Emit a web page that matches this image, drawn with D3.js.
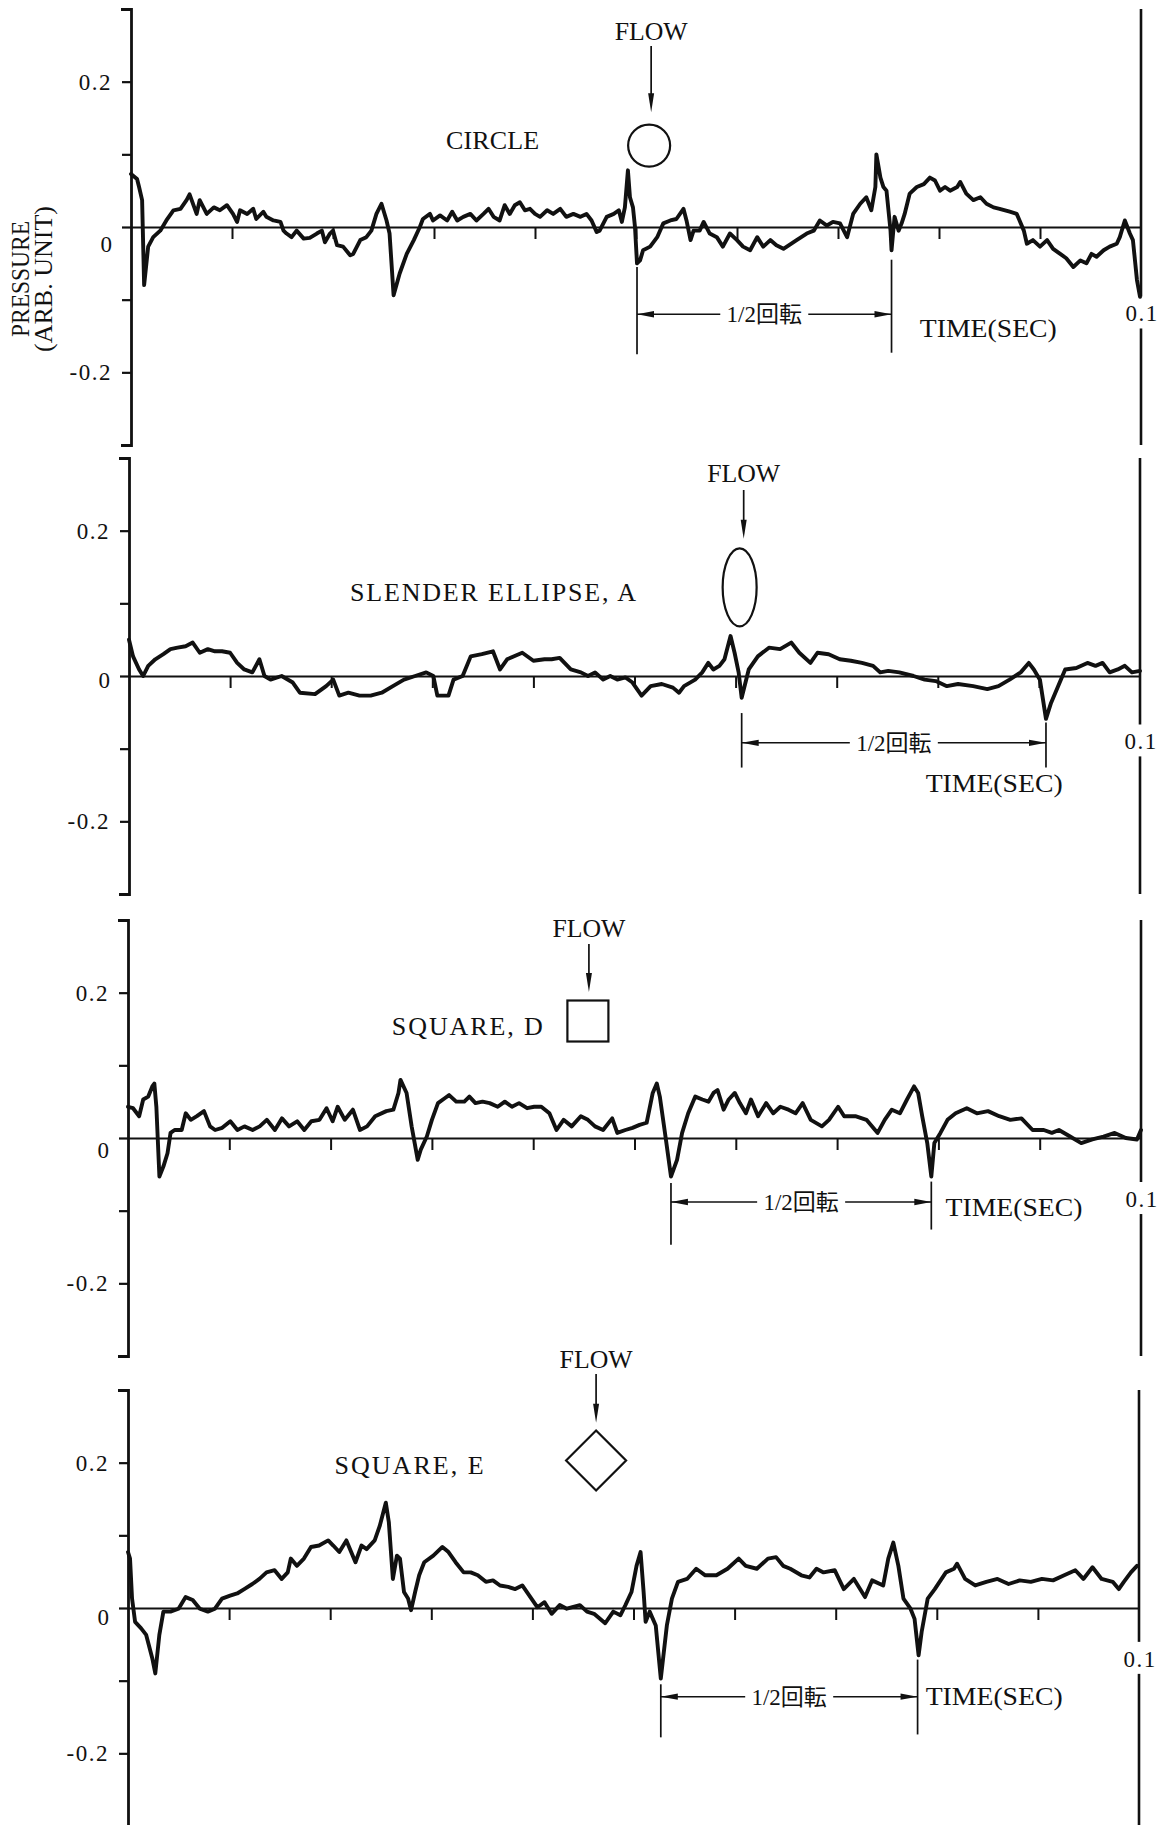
<!DOCTYPE html>
<html lang="ja">
<head>
<meta charset="utf-8">
<title>Pressure traces</title>
<style>
  html, body { margin: 0; padding: 0; background: #fff; }
  svg { display: block; }
  text { font-family: "Liberation Serif", "DejaVu Serif", "Noto Sans CJK JP", serif; fill: #111; }
</style>
<script src="https://cdn.jsdelivr.net/npm/d3@7"></script>
</head>
<body>
<svg id="chart" width="1159" height="1825"></svg>
<script>
// [time (ms), pressure (arb. unit)]
const circleData = [[0,.073],[0.6,.066],[0.8,.055],[1.1,.037],[1.3,-.08],[1.7,-.027],[2.2,-.014],[2.9,-.005],[3.5,.009],[4.2,.023],[4.9,.025],[5.5,.037],[5.8,.045],[6.5,.018],[6.8,.037],[7.5,.018],[8.2,.027],[8.8,.023],[9.5,.03],[10.1,.018],[10.5,.007],[10.8,.023],[11.5,.018],[12.1,.025],[12.4,.011],[13.1,.021],[13.4,.014],[14.1,.009],[14.8,.007],[15.1,-.005],[15.4,-.009],[15.9,-.014],[16.4,-.005],[17.1,-.016],[17.7,-.015],[18.4,-.009],[18.9,-.005],[19.2,-.021],[19.7,-.009],[20.0,-.005],[20.4,-.025],[21.0,-.027],[21.7,-.039],[22.0,-.037],[22.7,-.018],[23.3,-.014],[23.8,-.005],[24.3,.018],[24.8,.032],[25.3,.009],[25.6,-.009],[26.0,-.094],[26.6,-.064],[27.3,-.037],[28.0,-.018],[28.6,0],[28.9,.011],[29.6,.018],[29.9,.009],[30.6,.016],[31.3,.009],[31.8,.021],[32.3,.009],[32.9,.014],[33.6,.018],[34.2,.009],[34.9,.018],[35.4,.025],[35.9,.014],[36.5,.009],[37.0,.03],[37.5,.018],[38.0,.03],[38.5,.034],[39.0,.023],[39.5,.025],[40.0,.018],[40.5,.014],[41.2,.023],[41.8,.018],[42.5,.025],[43.1,.014],[43.8,.018],[44.5,.014],[45.1,.018],[45.6,.009],[46.1,-.007],[46.4,-.005],[47.1,.014],[47.8,.018],[48.3,.023],[48.6,.007],[48.9,.027],[49.2,.078],[49.4,.041],[49.7,.027],[49.9,0],[50.1,-.05],[50.4,-.046],[50.7,-.032],[51.4,-.027],[52.1,-.014],[52.7,.005],[53.4,.009],[54.0,.011],[54.7,.025],[55.0,.009],[55.4,-.018],[55.7,-.005],[56.3,-.005],[56.7,.007],[57.3,-.009],[58.0,-.014],[58.6,-.027],[59.3,-.009],[60.0,-.018],[60.6,-.027],[61.3,-.032],[62.0,-.014],[62.6,-.027],[63.3,-.018],[63.9,-.025],[64.6,-.03],[65.9,-.018],[66.9,-.009],[67.6,-.005],[68.2,.009],[68.9,.002],[69.5,.007],[70.2,.005],[70.9,-.014],[71.5,.018],[72.2,.032],[72.8,.041],[73.3,.023],[73.7,.055],[73.8,.1],[74.2,.068],[74.5,.055],[74.8,.05],[75.2,-.005],[75.3,-.032],[75.6,.014],[76.0,-.005],[76.3,.005],[76.6,.018],[77.1,.046],[77.8,.055],[78.5,.059],[79.1,.068],[79.6,.064],[80.1,.05],[80.6,.055],[81.1,.05],[81.8,.055],[82.1,.062],[82.7,.046],[83.4,.037],[84.1,.041],[84.7,.032],[85.4,.027],[86.0,.025],[87.0,.021],[87.7,.018],[88.4,-.005],[88.7,-.023],[89.3,-.018],[90.0,-.027],[90.7,-.018],[91.3,-.03],[92.0,-.037],[92.6,-.043],[93.3,-.055],[94.0,-.046],[94.6,-.05],[95.1,-.037],[95.6,-.041],[96.3,-.032],[96.9,-.027],[97.6,-.023],[97.9,-.014],[98.4,.009],[98.9,-.009],[99.2,-.018],[99.6,-.073],[99.9,-.096]];

const ellipseData = [[0,.05],[0.4,.027],[1.0,.009],[1.4,0],[1.9,.014],[2.6,.023],[3.4,.03],[4.1,.037],[4.8,.039],[5.6,.041],[6.3,.046],[7.0,.032],[7.8,.037],[8.5,.034],[9.2,.034],[10.0,.032],[10.7,.018],[11.4,.009],[12.2,.005],[12.9,.023],[13.4,0],[14.0,-.005],[15.1,0],[16.2,-.009],[16.9,-.023],[18.4,-.025],[19.5,-.014],[20.2,-.005],[20.8,-.027],[21.7,-.023],[22.8,-.027],[23.9,-.027],[25.0,-.023],[26.1,-.014],[27.2,-.005],[28.3,0],[29.4,.005],[30.1,0],[30.5,-.027],[31.6,-.027],[32.1,-.005],[33.0,0],[33.8,.027],[34.9,.03],[36.0,.034],[36.7,.009],[37.4,.023],[38.9,.032],[40.0,.021],[41.1,.023],[41.8,.023],[42.6,.025],[43.7,.009],[44.7,.005],[45.4,0],[46.1,.005],[46.9,-.005],[47.6,0],[48.3,-.005],[49.1,-.002],[49.8,-.009],[50.7,-.027],[51.6,-.014],[52.7,-.011],[53.8,-.016],[54.4,-.023],[54.9,-.014],[56.0,-.005],[56.7,.005],[57.3,.018],[57.8,.009],[58.4,.014],[58.9,.023],[59.5,.055],[59.9,.032],[60.3,.005],[60.6,-.03],[61.3,.009],[62.2,.027],[63.3,.039],[64.4,.037],[65.5,.046],[66.3,.032],[67.4,.018],[68.1,.032],[69.2,.03],[70.3,.023],[71.4,.021],[72.5,.018],[73.6,.014],[74.3,.005],[75.1,.007],[76.2,.005],[77.6,0],[78.7,-.005],[79.8,-.007],[80.9,-.014],[82.0,-.011],[83.5,-.014],[84.9,-.018],[86.0,-.014],[87.1,-.005],[88.2,.005],[89.0,.018],[89.5,.009],[90.1,-.005],[90.7,-.059],[91.2,-.037],[91.9,-.014],[92.6,.009],[93.7,.011],[94.8,.018],[95.6,.014],[96.3,.018],[97.0,.005],[97.8,.009],[98.5,.014],[99.2,.005],[100,.007]];

const squareDData = [[0,.043],[0.5,.041],[1.1,.03],[1.5,.053],[2.0,.057],[2.4,.071],[2.6,.075],[2.8,.043],[3.1,-.053],[3.5,-.039],[3.9,-.021],[4.2,.007],[4.6,.011],[5.3,.011],[5.7,.034],[6.2,.025],[6.8,.03],[7.5,.037],[8.1,.016],[8.6,.011],[9.3,.014],[10.1,.023],[10.8,.011],[11.5,.016],[12.3,.011],[13.0,.016],[13.7,.025],[14.5,.011],[15.2,.027],[15.9,.016],[16.7,.023],[17.4,.011],[18.1,.023],[18.9,.025],[19.6,.041],[20.2,.023],[20.7,.043],[21.4,.025],[22.2,.039],[22.9,.011],[23.6,.016],[24.4,.03],[25.5,.037],[26.2,.039],[26.7,.062],[26.9,.08],[27.5,.062],[28.0,.016],[28.6,-.03],[28.9,-.016],[29.5,.002],[30.0,.025],[30.6,.048],[31.3,.055],[31.7,.059],[32.4,.05],[33.2,.05],[33.7,.057],[34.3,.048],[35.0,.05],[35.7,.048],[36.5,.043],[37.2,.05],[37.9,.043],[38.6,.048],[39.4,.041],[40.1,.043],[40.8,.043],[41.6,.034],[42.3,.011],[43.0,.025],[43.8,.016],[44.7,.03],[45.4,.025],[46.1,.016],[46.9,.011],[47.8,.027],[48.3,.007],[49.1,.011],[49.8,.014],[50.5,.018],[51.2,.021],[51.8,.062],[52.2,.075],[52.5,.057],[53.1,-.002],[53.6,-.053],[54.2,-.03],[54.7,.007],[55.3,.034],[56.0,.057],[56.7,.053],[57.3,.05],[57.8,.062],[58.2,.066],[58.8,.039],[59.3,.053],[59.9,.062],[60.4,.048],[61.0,.034],[61.5,.053],[62.2,.03],[63.0,.048],[63.7,.034],[64.4,.043],[65.2,.039],[65.9,.034],[66.6,.048],[67.4,.025],[68.5,.016],[69.2,.025],[70.1,.043],[70.7,.03],[71.8,.03],[72.9,.025],[74.0,.007],[74.7,.025],[75.4,.039],[76.2,.034],[76.9,.053],[77.6,.071],[78.0,.062],[78.4,.03],[78.9,-.007],[79.3,-.053],[79.6,-.007],[80.2,.007],[80.9,.025],[81.7,.034],[82.8,.041],[83.8,.034],[84.9,.037],[86.0,.03],[87.1,.025],[88.2,.027],[89.3,.011],[90.4,.011],[91.2,.007],[91.9,.011],[93.0,.002],[94.1,-.007],[95.2,-.002],[96.3,.002],[97.4,.007],[98.5,0],[99.6,-.002],[100,.011]];

const squareEData = [[0,.077],[0.2,.068],[0.4,.013],[0.7,-.019],[1.3,-.028],[1.8,-.037],[2.4,-.069],[2.7,-.09],[3.1,-.037],[3.5,-.005],[4.2,-.005],[5.0,-.001],[5.7,.015],[6.4,.011],[7.1,-.001],[7.9,-.005],[8.6,-.001],[9.3,.013],[10.1,.017],[10.8,.02],[11.5,.026],[12.3,.033],[13.0,.04],[13.7,.049],[14.5,.052],[15.2,.04],[15.8,.049],[16.1,.068],[16.7,.058],[17.4,.068],[18.1,.084],[18.9,.086],[19.8,.093],[20.3,.086],[20.9,.077],[21.6,.093],[22.5,.063],[23.1,.086],[23.6,.081],[24.4,.093],[24.9,.113],[25.5,.145],[25.8,.118],[26.2,.04],[26.6,.072],[26.9,.068],[27.3,.022],[27.7,.013],[28.0,-.003],[28.4,.022],[28.8,.045],[29.3,.063],[30.2,.072],[31.1,.084],[31.7,.077],[32.4,.063],[33.2,.049],[33.9,.049],[34.6,.045],[35.4,.036],[36.1,.038],[36.8,.031],[37.6,.029],[38.3,.026],[39.0,.031],[39.7,.017],[40.5,.001],[41.2,.008],[41.9,-.008],[42.7,.004],[43.4,-.001],[44.7,.004],[45.4,-.005],[46.1,-.008],[47.2,-.021],[48.0,-.005],[48.7,-.01],[49.2,.004],[49.8,.022],[50.3,.058],[50.7,.077],[51.0,.022],[51.2,-.019],[51.6,-.005],[52.2,-.024],[52.7,-.097],[53.3,-.024],[53.8,.013],[54.4,.036],[55.3,.04],[56.2,.054],[57.1,.045],[58.2,.045],[59.3,.054],[60.4,.068],[61.1,.058],[62.2,.054],[63.3,.068],[64.1,.07],[64.8,.058],[65.5,.054],[66.6,.045],[67.4,.042],[68.1,.054],[68.8,.049],[69.9,.052],[70.8,.026],[71.8,.04],[72.9,.015],[73.6,.038],[74.7,.031],[75.2,.068],[75.7,.09],[76.2,.058],[76.7,.013],[77.4,-.001],[77.8,-.015],[78.2,-.065],[78.5,-.033],[79.1,.013],[79.8,.026],[80.9,.049],[81.7,.054],[82.0,.061],[82.8,.04],[83.8,.031],[84.9,.036],[86.0,.04],[87.1,.033],[88.2,.038],[89.3,.036],[90.4,.04],[91.5,.038],[92.6,.045],[93.7,.052],[94.5,.04],[95.4,.056],[96.3,.04],[97.4,.036],[98.0,.026],[98.5,.036],[99.2,.049],[99.8,.058]];

const yTickValues = [-0.2, -0.1, 0, 0.1, 0.2];
const yTickLabels = {"0.2": "0.2", "0": "0", "-0.2": "-0.2"};
const xTickValues = [0.01, 0.02, 0.03, 0.04, 0.05, 0.06, 0.07, 0.08, 0.09];

// layout of the four strips, annotations in data units (ms, pressure)
const panels = [
  { data: circleData, x0: 131, x1: 1141, zero: 227, zeroDy: 17,
    name: { text: "CIRCLE", t: 35.8, p: 0.108, len: 93 },
    flow: { t: 51.5, label: 0.258, p1: 0.249, p2: 0.158 },
    shape: { type: "circle", t: 51.3, p: 0.112, r: 21 },
    dim: { t1: 50.1, t2: 75.3, top1: -0.055, top2: -0.045, bot1: -0.175, bot2: -0.173, mid: -0.12 },
    time: { t: 78.1, p: -0.151 }, tenth: -0.130 },
  { data: ellipseData, x0: 129, x1: 1140, zero: 676, zeroDy: 4,
    name: { text: "SLENDER ELLIPSE, A", t: 36.0, p: 0.103, len: 286 },
    flow: { t: 60.8, label: 0.267, p1: 0.256, p2: 0.189 },
    shape: { type: "ellipse", t: 60.4, p: 0.122, rx: 17, ry: 39 },
    dim: { t1: 60.6, t2: 90.7, top1: -0.051, top2: -0.064, bot1: -0.126, bot2: -0.126, mid: -0.092 },
    time: { t: 78.8, p: -0.160 }, tenth: -0.101 },
  { data: squareDData, x0: 128, x1: 1141, zero: 1138, zeroDy: 12,
    name: { text: "SQUARE, D", t: 33.5, p: 0.142, len: 151 },
    flow: { t: 45.5, label: 0.277, p1: 0.267, p2: 0.201 },
    shape: { type: "square", t: 45.4, p: 0.161, size: 41 },
    dim: { t1: 53.6, t2: 79.3, top1: -0.062, top2: -0.06, bot1: -0.147, bot2: -0.126, mid: -0.088 },
    time: { t: 80.7, p: -0.108 }, tenth: -0.095 },
  { data: squareEData, x0: 128, x1: 1139, zero: 1608, zeroDy: 9,
    name: { text: "SQUARE, E", t: 27.8, p: 0.184, len: 149 },
    flow: { t: 46.3, label: 0.330, p1: 0.322, p2: 0.255 },
    shape: { type: "diamond", t: 46.3, p: 0.203, half: 30 },
    dim: { t1: 52.7, t2: 78.1, top1: -0.105, top2: -0.071, bot1: -0.178, bot2: -0.174, mid: -0.122 },
    time: { t: 78.9, p: -0.133 }, tenth: -0.081 }
];

const svg = d3.select("#chart");
const ink = "#111";

// y axis title, two rotated lines
const title = svg.append("g").attr("transform", "translate(0,279)");
title.append("text").attr("transform", "translate(29,0) rotate(-90)")
  .attr("text-anchor", "middle").attr("font-size", 26)
  .attr("textLength", 116).attr("lengthAdjust", "spacingAndGlyphs").text("PRESSURE");
title.append("text").attr("transform", "translate(52,0) rotate(-90)")
  .attr("text-anchor", "middle").attr("font-size", 26)
  .attr("textLength", 146).attr("lengthAdjust", "spacingAndGlyphs").text("(ARB. UNIT)");

panels.forEach(pn => {
  const x = d3.scaleLinear().domain([0, 0.1]).range([pn.x0, pn.x1]);
  const y = d3.scaleLinear().domain([-0.3, 0.3]).range([pn.zero + 218, pn.zero - 218]);
  const xt = t => x(t / 1000);
  const g = svg.append("g");

  // bracket axis on the left
  g.append("g").attr("transform", `translate(${pn.x0},0)`)
    .call(d3.axisLeft(y).tickValues(yTickValues).tickSize(9).tickSizeOuter(10).tickFormat(""))
    .call(a => a.select(".domain").attr("stroke", ink).attr("stroke-width", 2.8))
    .call(a => a.selectAll(".tick line").attr("stroke", ink).attr("stroke-width", 2.2));

  yTickValues.forEach(v => {
    const lab = yTickLabels[String(v)];
    if (!lab) return;
    g.append("text")
      .attr("x", pn.x0 - 19)
      .attr("y", y(v) + (v === 0 ? pn.zeroDy : 0))
      .attr("dy", "0.35em")
      .attr("text-anchor", "end")
      .attr("font-size", 23)
      .attr("letter-spacing", v === 0 ? 0 : 1.5)
      .text(lab);
  });

  // time axis drawn on the zero line
  g.append("g").attr("transform", `translate(0,${y(0)})`)
    .call(d3.axisBottom(x).tickValues(xTickValues).tickSize(12).tickSizeOuter(0).tickFormat(""))
    .call(a => a.select(".domain").attr("stroke", ink).attr("stroke-width", 2.2))
    .call(a => a.selectAll(".tick line").attr("stroke", ink).attr("stroke-width", 2));

  // right end line, broken by the 0.1 label
  const yl = y(pn.tenth);
  g.append("line").attr("x1", pn.x1).attr("x2", pn.x1)
    .attr("y1", y(0.3)).attr("y2", yl - 25).attr("stroke", ink).attr("stroke-width", 2.6);
  g.append("line").attr("x1", pn.x1).attr("x2", pn.x1)
    .attr("y1", yl + 7).attr("y2", y(-0.3)).attr("stroke", ink).attr("stroke-width", 2.6);
  g.append("text").attr("x", pn.x1 + 1).attr("y", yl)
    .attr("text-anchor", "middle").attr("font-size", 23).attr("letter-spacing", 1.5)
    .text("0.1");

  // pressure trace
  const line = d3.line().x(d => xt(d[0])).y(d => y(d[1]));
  g.append("path").datum(pn.data)
    .attr("d", line)
    .attr("fill", "none").attr("stroke", ink)
    .attr("stroke-width", 3.9).attr("stroke-linejoin", "round").attr("stroke-linecap", "round");

  // model name
  g.append("text").attr("x", xt(pn.name.t)).attr("y", y(pn.name.p))
    .attr("text-anchor", "middle").attr("font-size", 26)
    .attr("textLength", pn.name.len).attr("lengthAdjust", "spacing")
    .text(pn.name.text);

  // FLOW arrow
  const fx = xt(pn.flow.t);
  g.append("text").attr("x", fx).attr("y", y(pn.flow.label))
    .attr("text-anchor", "middle").attr("font-size", 26)
    .attr("textLength", 73).attr("lengthAdjust", "spacingAndGlyphs").text("FLOW");
  const ay1 = y(pn.flow.p1), ay2 = y(pn.flow.p2);
  g.append("line").attr("x1", fx).attr("x2", fx).attr("y1", ay1).attr("y2", ay2 - 10)
    .attr("stroke", ink).attr("stroke-width", 1.7);
  g.append("path")
    .attr("d", `M${fx - 3},${ay2 - 19}L${fx + 3},${ay2 - 19}L${fx},${ay2}Z`)
    .attr("fill", ink);

  // cross-section shape
  const sx = xt(pn.shape.t), sy = y(pn.shape.p);
  const shapeStyle = s => s.attr("fill", "none").attr("stroke", ink).attr("stroke-width", 2.2);
  if (pn.shape.type === "circle") {
    g.append("circle").attr("cx", sx).attr("cy", sy).attr("r", pn.shape.r).call(shapeStyle);
  } else if (pn.shape.type === "ellipse") {
    g.append("ellipse").attr("cx", sx).attr("cy", sy)
      .attr("rx", pn.shape.rx).attr("ry", pn.shape.ry).call(shapeStyle);
  } else if (pn.shape.type === "square") {
    const s = pn.shape.size;
    g.append("rect").attr("x", sx - s / 2).attr("y", sy - s / 2)
      .attr("width", s).attr("height", s).call(shapeStyle);
  } else {
    const h = pn.shape.half;
    g.append("path")
      .attr("d", `M${sx},${sy - h}L${sx + h},${sy}L${sx},${sy + h}L${sx - h},${sy}Z`)
      .call(shapeStyle);
  }

  // half revolution dimension
  const d = pn.dim;
  const dx1 = xt(d.t1), dx2 = xt(d.t2), dm = y(d.mid);
  g.append("line").attr("x1", dx1).attr("x2", dx1).attr("y1", y(d.top1)).attr("y2", y(d.bot1))
    .attr("stroke", ink).attr("stroke-width", 1.7);
  g.append("line").attr("x1", dx2).attr("x2", dx2).attr("y1", y(d.top2)).attr("y2", y(d.bot2))
    .attr("stroke", ink).attr("stroke-width", 1.7);
  const cx = (dx1 + dx2) / 2;
  g.append("text").attr("x", cx).attr("y", dm).attr("dy", "0.36em")
    .attr("text-anchor", "middle").attr("font-size", 23)
    .text("1/2回転");
  g.append("line").attr("x1", dx1).attr("x2", cx - 44).attr("y1", dm).attr("y2", dm)
    .attr("stroke", ink).attr("stroke-width", 1.5);
  g.append("line").attr("x1", cx + 44).attr("x2", dx2).attr("y1", dm).attr("y2", dm)
    .attr("stroke", ink).attr("stroke-width", 1.5);
  g.append("path").attr("d", `M${dx1},${dm}L${dx1 + 17},${dm - 3.2}L${dx1 + 17},${dm + 3.2}Z`).attr("fill", ink);
  g.append("path").attr("d", `M${dx2},${dm}L${dx2 - 17},${dm - 3.2}L${dx2 - 17},${dm + 3.2}Z`).attr("fill", ink);

  // axis caption
  g.append("text").attr("x", xt(pn.time.t)).attr("y", y(pn.time.p))
    .attr("font-size", 26).attr("textLength", 137).attr("lengthAdjust", "spacingAndGlyphs")
    .text("TIME(SEC)");
});
</script>
</body>
</html>
